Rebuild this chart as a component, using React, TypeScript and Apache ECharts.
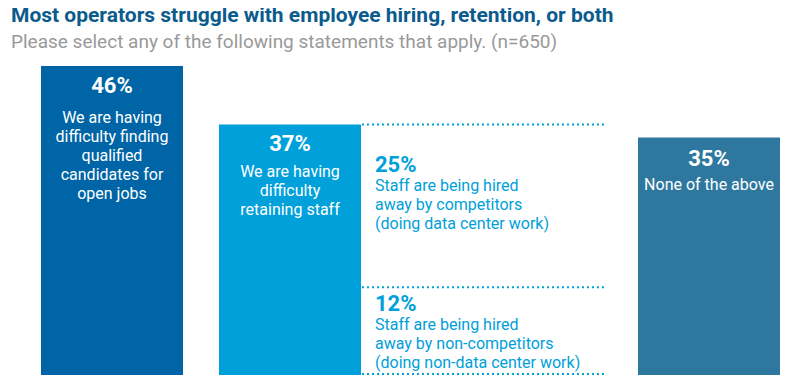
import React, { useEffect, useRef } from "react";
import * as echarts from "echarts";

const titleText = "Most operators struggle with employee hiring, retention, or both";
const subtitleText = "Please select any of the following statements that apply. (n=650)";

// x categories (hidden axis)
const categories = ["Finding candidates", "Retaining staff", "Hired away", "None of the above"];

// main bars
const mainCategoryIndex = [0, 1, 3];
const mainValues = [46, 37, 35];
const mainDescriptions = [
  "We are having\ndifficulty finding\nqualified\ncandidates for\nopen jobs",
  "We are having\ndifficulty\nretaining staff",
  "None of the above",
];

// breakdown of "retaining staff" (top to bottom)
const subValues = [25, 12];
const subDescriptions = [
  "Staff are being hired\naway by competitors\n(doing data center work)",
  "Staff are being hired\naway by non-competitors\n(doing non-data center work)",
];

const MAIN_COLORS = ["#0065a6", "#00a0da", "#2e78a0"];
const SUB_COLOR = "#00a0da";
const FONT = "Roboto, 'Noto Sans', sans-serif";

// layout
const MAIN_LEFT = [41, 219, 638];
const BAR_W = 142;
const DESC_OFFSET = [42, 37, 37];
const PCT_OFFSET = [19, 19, 21];
const BOX_LEFT = 361;
const BOX_RIGHT = 605;
const SUB_PCT_OFFSET = [40, 16];

export default function App() {
  const ref = useRef<HTMLDivElement>(null);
  useEffect(() => {
    if (!ref.current) return;
    const chart = echarts.init(ref.current, null, { renderer: "svg" });
    const option: any = {
      animation: false,
      backgroundColor: "#ffffff",
      title: {
        left: 11,
        top: 4,
        padding: 0,
        text: titleText,
        textStyle: { fontFamily: FONT, fontSize: 21, fontWeight: "bold", color: "#0b5b8d" },
        subtext: subtitleText,
        subtextStyle: { fontFamily: FONT, fontSize: 19, color: "#999999" },
        itemGap: 7,
      },
      grid: { left: 0, right: 0, top: 66, bottom: 11 },
      xAxis: { type: "category", data: categories, show: false },
      yAxis: { type: "value", min: -1.5, max: 46, show: false },
      series: [
        {
          type: "custom",
          name: "main",
          data: mainValues.map((v, i) => [mainCategoryIndex[i], v]),
          encode: { x: 0, y: 1 },
          renderItem: (params: any, api: any) => {
            const i = params.dataIndex;
            const v = api.value(1);
            const yTop = api.coord([api.value(0), v])[1];
            const cs = params.coordSys;
            const yBase = cs.y + cs.height;
            const x = MAIN_LEFT[i];
            return {
              type: "group",
              children: [
                {
                  type: "rect",
                  shape: { x, y: yTop, width: BAR_W, height: yBase - yTop },
                  style: { fill: MAIN_COLORS[i] },
                },
                {
                  type: "text",
                  x: x + BAR_W / 2,
                  y: yTop + PCT_OFFSET[i],
                  style: {
                    text: v + "%",
                    fill: "#ffffff",
                    fontFamily: FONT,
                    fontSize: 22,
                    fontWeight: "bold",
                    align: "center",
                    verticalAlign: "middle",
                  },
                },
                {
                  type: "text",
                  x: x + BAR_W / 2,
                  y: yTop + DESC_OFFSET[i],
                  style: {
                    text: mainDescriptions[i],
                    fill: "#ffffff",
                    fontFamily: FONT,
                    fontSize: 16,
                    lineHeight: 19,
                    align: "center",
                    verticalAlign: "top",
                  },
                },
              ],
            };
          },
        },
        {
          type: "custom",
          name: "hired away",
          data: subValues.map((v) => [2, v]),
          encode: { x: 0, y: 1 },
          renderItem: (params: any, api: any) => {
            const j = params.dataIndex;
            const v = api.value(1);
            let low = 0;
            for (let k = j + 1; k < subValues.length; k++) low += subValues[k];
            const high = low + v;
            const yHigh = api.coord([2, high])[1];
            const cs = params.coordSys;
            const yBase = cs.y + cs.height;
            const lineStyle = {
              stroke: SUB_COLOR,
              lineWidth: 2,
              lineDash: [2, 3],
            };
            const children: any[] = [
              {
                type: "line",
                shape: { x1: BOX_LEFT + 1, y1: yHigh, x2: BOX_RIGHT, y2: yHigh },
                style: lineStyle,
              },
              {
                type: "text",
                x: BOX_LEFT + 14,
                y: yHigh + SUB_PCT_OFFSET[j],
                style: {
                  text: v + "%",
                  fill: SUB_COLOR,
                  fontFamily: FONT,
                  fontSize: 22,
                  fontWeight: "bold",
                  align: "left",
                  verticalAlign: "middle",
                },
              },
              {
                type: "text",
                x: BOX_LEFT + 14,
                y: yHigh + SUB_PCT_OFFSET[j] + 11.5,
                style: {
                  text: subDescriptions[j],
                  fill: SUB_COLOR,
                  fontFamily: FONT,
                  fontSize: 16,
                  lineHeight: 19,
                  align: "left",
                  verticalAlign: "top",
                },
              },
            ];
            if (low === 0) {
              children.push({
                type: "line",
                shape: { x1: BOX_LEFT + 1, y1: yBase - 1, x2: BOX_RIGHT, y2: yBase - 1 },
                style: lineStyle,
              });
            }
            return { type: "group", children };
          },
        },
      ],
    };
    chart.setOption(option);
    return () => chart.dispose();
  }, []);
  return <div ref={ref} style={{ width: 794, height: 386, margin: -8 }} />;
}
